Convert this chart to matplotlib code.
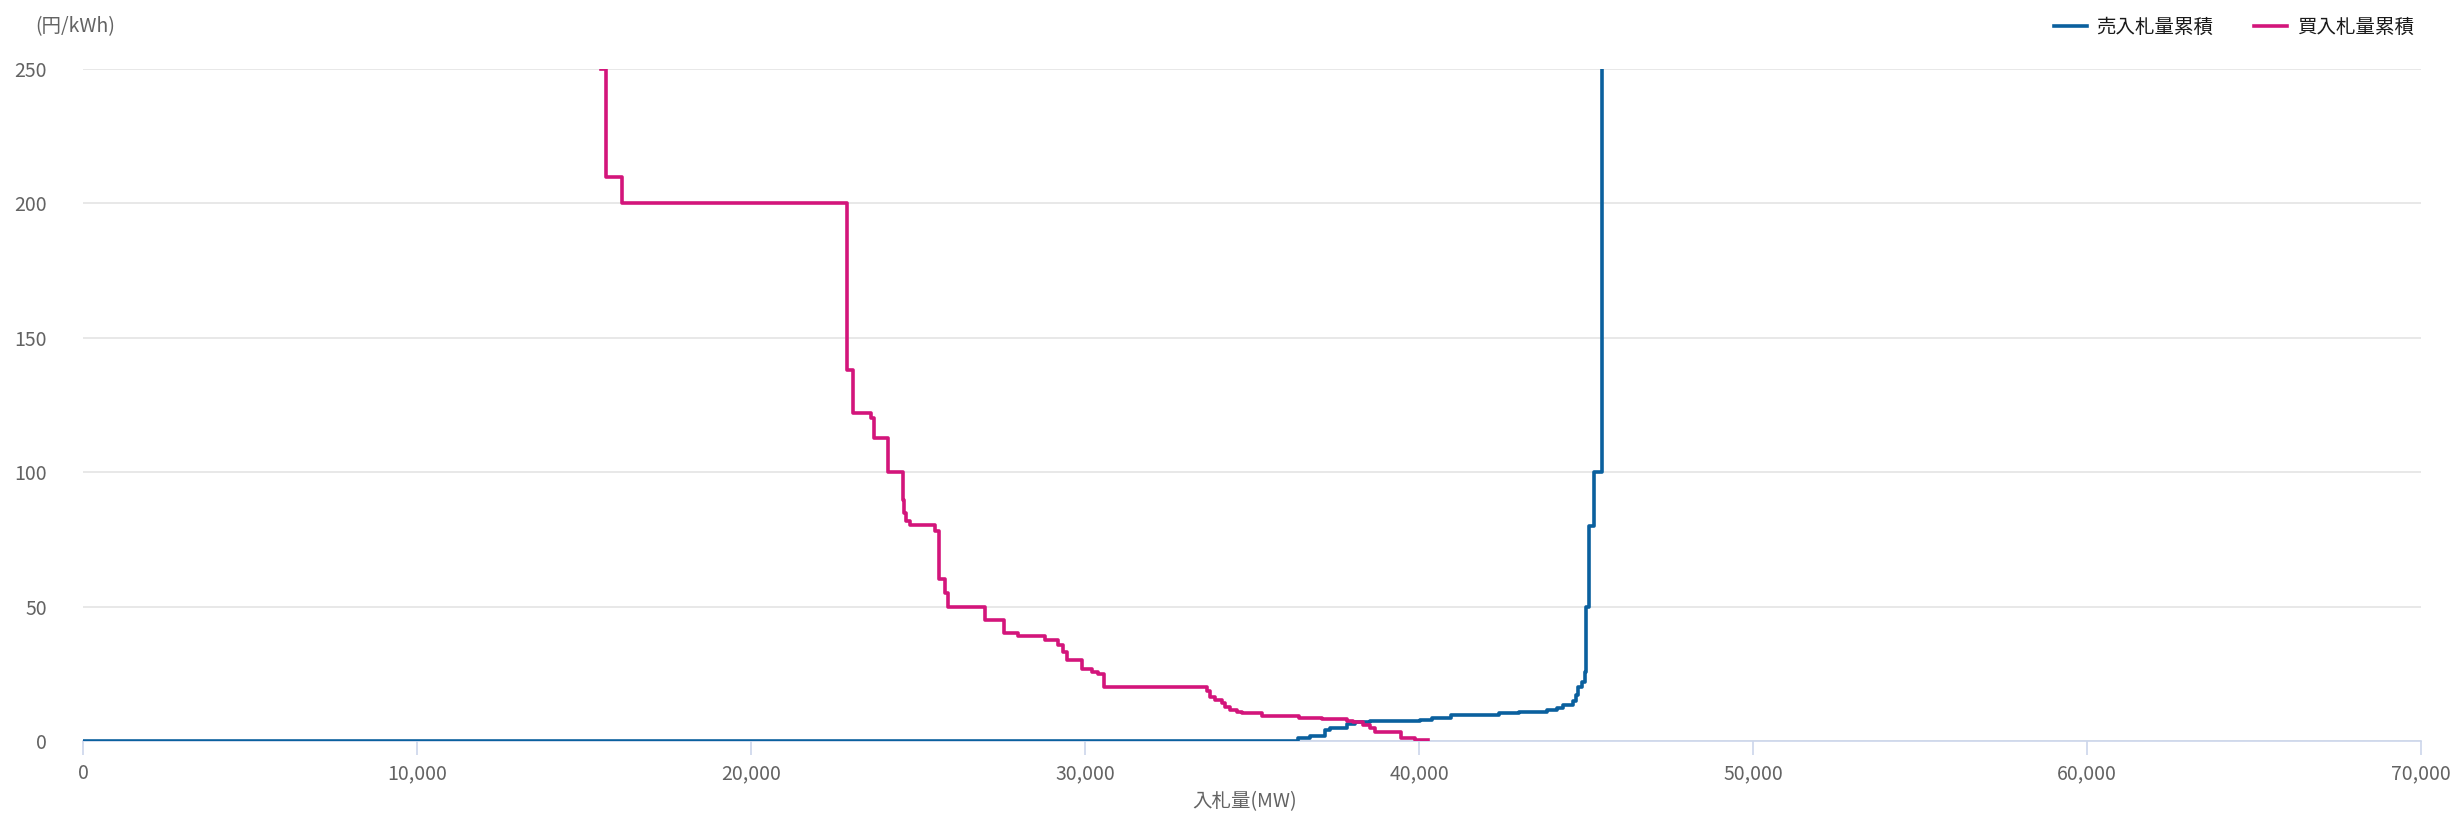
import numpy as np
import matplotlib.pyplot as plt
from matplotlib.ticker import FuncFormatter

plt.rcParams['font.family'] = ['Noto Sans CJK JP', 'DejaVu Sans']

# 売入札量累積 (sell curve): volume [MW] where price steps up, price [円/kWh]
sell_mw = [0, 36390, 36740, 37180, 37330, 37830, 38080, 38530, 39430, 40030,
           40400, 40950, 42400, 43000, 43820, 44120, 44320, 44600, 44700,
           44770, 44880, 44960, 44990, 45100, 45250, 45470]
sell_price = [0, 1.0, 2.0, 4.1, 5.0, 6.2, 7.0, 7.3, 7.6, 7.9,
              8.5, 9.7, 10.3, 10.8, 11.4, 12.4, 13.4, 14.7, 17.0,
              20.2, 22.0, 25.5, 50.0, 80.0, 100.0, 250.0]

# 買入札量累積 (buy curve)
buy_mw = [15510, 15660, 16130, 22870, 23060, 23600, 23680, 24090, 24540, 24580,
          24630, 24760, 25510, 25640, 25810, 25890, 27010, 27560, 28000, 28800,
          29200, 29340, 29450, 29900, 30200, 30390, 30560, 33650, 33740, 33890,
          34090, 34190, 34340, 34540, 34700, 35290, 36400, 37090, 37830, 38030,
          38330, 38530, 38680, 39450, 39880, 40270]
buy_price = [250, 210, 200, 138, 122, 120, 112.7, 100, 89.6, 85,
             82, 80.3, 78, 60.3, 55, 50, 45, 40, 39, 37.6,
             35.7, 33, 30, 26.8, 25.8, 25, 20.2, 18.5, 16.5, 15.3,
             14.0, 12.8, 11.5, 10.7, 10.3, 9.2, 8.6, 8.0, 7.4, 7.0,
             6.0, 4.7, 3.5, 1.2, 0.5, 0.5]

x_ticks = [0, 10000, 20000, 30000, 40000, 50000, 60000, 70000]
y_ticks = [0, 50, 100, 150, 200, 250]

blue = '#0a609e'
pink = '#d3157b'
label_col = '#636363'

fig = plt.figure(figsize=(24.61, 8.13), dpi=100)
ax = fig.add_axes([83 / 2461, 1 - 741 / 813, (2421 - 83) / 2461, (741 - 69) / 813])

ax.step(sell_mw, sell_price, where='post', color=blue, lw=2.6, label='売入札量累積', zorder=3)
ax.step(buy_mw, buy_price, where='post', color=pink, lw=2.6, label='買入札量累積', zorder=3)

ax.set_xlim(0, 70000)
ax.set_ylim(0, 250)
ax.set_xticks(x_ticks)
ax.set_yticks(y_ticks)
ax.xaxis.set_major_formatter(FuncFormatter(lambda v, p: f'{int(v):,}'))

for s in ['top', 'right', 'left']:
    ax.spines[s].set_visible(False)
ax.spines['bottom'].set_color('#ccd6eb')
ax.spines['bottom'].set_linewidth(1.2)

ax.grid(axis='y', color='#e6e6e6', lw=1.3, zorder=0)
ax.set_axisbelow(True)
ax.tick_params(axis='y', length=0, pad=26, labelsize=14, labelcolor=label_col)
ax.tick_params(axis='x', length=10, width=1.2, color='#ccd6eb', pad=6,
               labelsize=14, labelcolor=label_col)

fig.text(35 / 2461, 1 - 27 / 813, '(円/kWh)', fontsize=14, color=label_col,
         ha='left', va='center')
fig.text(1245 / 2461, 1 - 802 / 813, '入札量(MW)', fontsize=14, color=label_col,
         ha='center', va='center')

leg = fig.legend(loc='center right', bbox_to_anchor=(2414 / 2461, 1 - 27 / 813), ncol=2,
                 frameon=False, fontsize=14, handlelength=1.7, handletextpad=0.5,
                 columnspacing=2.1, borderpad=0, borderaxespad=0)
for t in leg.get_texts():
    t.set_color('#1a1a1a')

fig.savefig('out.png', dpi=100)
